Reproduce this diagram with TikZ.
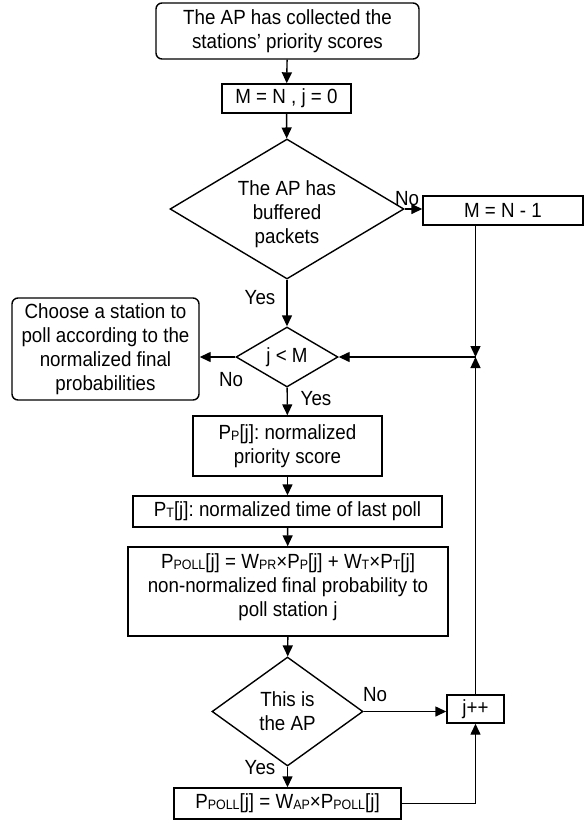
\documentclass[tikz,border=0pt]{standalone}
\usepackage{fontspec}
\setmainfont[FakeStretch=0.915]{Liberation Sans}
\usetikzlibrary{shapes.geometric,arrows.meta,positioning}
\newcommand{\lowsub}[1]{\raisebox{-1pt}{\fontsize{13.6}{13.6}\selectfont #1}}
\tikzset{
  base/.style={draw, line width=1.4pt, inner sep=0pt, align=center, font=\fontsize{20.5}{24}\selectfont},
  term/.style={base, rounded corners=6pt},
  proc/.style={base},
  decide/.style={base, diamond},
  flow/.style={line width=1.4pt, -{Triangle[length=11pt,width=10pt]}},
  lbl/.style={anchor=base, inner sep=0pt, font=\fontsize{20.5}{24}\selectfont},
}
\frenchspacing
\begin{document}
\begin{tikzpicture}[x=1pt,y=-1pt]
\useasboundingbox (0,0) rectangle (585,823);
\node[term, minimum width=263pt, minimum height=56pt] (start) at (287.5,31) {The AP has collected the\\stations’ priority scores};
\node[proc, minimum width=129pt, minimum height=29pt] (init) at (286.5,98.5) {M = N , j = 0};
\node[decide, shape aspect=1.67, minimum width=234pt, minimum height=140pt] (buf) at (287,209) {\rule{0pt}{25pt}The AP has\\buffered\\packets};
\node[proc, minimum width=160pt, minimum height=29pt] (mn1) at (503,210.5) {M = N - 1};
\node[decide, shape aspect=1.7, minimum width=102pt, minimum height=60pt] (jm) at (287,357) {j < M};
\node[term, minimum width=187pt, minimum height=102pt] (choose) at (105.5,349) {Choose a station to\\poll according to the\\normalized final\\probabilities};
\node[proc, minimum width=189pt, minimum height=60pt] (pp) at (287.5,446) {P\lowsub{P}[j]: normalized\\priority score};
\node[proc, minimum width=309pt, minimum height=31pt] (pt) at (287.5,511.5) {P\lowsub{T}[j]: normalized time of last poll};
\node[proc, minimum width=320pt, minimum height=89pt] (poll) at (288,591.5) {P\lowsub{POLL}[j] = W\lowsub{PR}×P\lowsub{P}[j] + W\lowsub{T}×P\lowsub{T}[j]\\non-normalized final probability to\\poll station j\rule[-12pt]{0pt}{12pt}};
\node[decide, shape aspect=1.39, minimum width=151pt, minimum height=109pt] (ap) at (287.5,711.5) {This is\\the AP};
\node[proc, minimum width=57pt, minimum height=28pt] (jpp) at (475.5,709) {j++};
\node[proc, minimum width=227pt, minimum height=31pt] (wap) at (287.5,803.5) {P\lowsub{POLL}[j] = W\lowsub{AP}×P\lowsub{POLL}[j]};
\coordinate (jn) at (475.5,357);

\draw[flow] (start) -- (init);
\draw[flow] (init) -- (buf);
\draw[flow] (buf.east) -- (buf.east -| mn1.west);
\draw[flow] (buf) -- (jm);
\draw[flow] (jm.west) -- (jm.west -| choose.east);
\draw[flow] (jm) -- (pp);
\draw[flow] (pp) -- (pt);
\draw[flow] (pt) -- (poll);
\draw[flow] (poll) -- (ap);
\draw[flow] (ap) -- (wap);
\draw[flow] (ap.east) -- (ap.east -| jpp.west);
\draw[flow] (wap.east) -| (jpp.south);
\draw[flow] (jpp.north) -- (jn);
\draw[flow] (mn1.south -| jn) -- (jn);
\draw[flow] (jn) -- (jm.east);

\node[lbl] (no1) at (407,205) {No};
\node[lbl] (yes1) at (260,304) {Yes};
\node[lbl] (no2) at (231,386) {No};
\node[lbl] (yes2) at (316,405) {Yes};
\node[lbl] (no3) at (375,701) {No};
\node[lbl] (yes3) at (260,774) {Yes};
\end{tikzpicture}
\end{document}
